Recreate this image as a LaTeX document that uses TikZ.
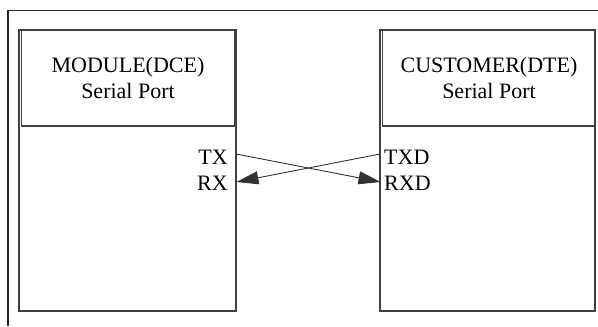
\documentclass[tikz,border=0pt]{standalone}
\usepackage{fontspec}
\setmainfont{Liberation Serif}
\usetikzlibrary{arrows.meta}
\begin{document}
\begin{tikzpicture}[x=1pt,y=-1pt,
  frameline/.style={line width=1.3pt,draw=black!85},
  boxline/.style={line width=1.4pt,draw=black!75},
  hdr/.style={align=center,font=\fontsize{22}{26}\selectfont,inner sep=0pt},
  pin/.style={font=\fontsize{22}{26}\selectfont,inner sep=0pt},
  wire/.style={line width=0.9pt,draw=black!80,-{Triangle[length=22pt,width=13pt]}}]
\useasboundingbox (0,0) rectangle (598,327);
\draw[frameline] (8,326) -- (8,10.5) -- (598,10.5);
% left box
\draw[boxline] (19,30) rectangle (236,311);
\draw[boxline] (21.5,30) rectangle (235,126);
\node[hdr] (mod) at (128,78) {MODULE(DCE)\\Serial Port};
% right box
\draw[boxline] (380,30) rectangle (595,311);
\draw[boxline] (382.5,30) rectangle (595,126);
\node[hdr] (cus) at (489,78) {CUSTOMER(DTE)\\Serial Port};
% pins
\node[pin,anchor=base east] (tx) at (228,164) {TX};
\node[pin,anchor=base east] (rx) at (228,190) {RX};
\node[pin,anchor=base west] (txd) at (384,164) {TXD};
\node[pin,anchor=base west] (rxd) at (384,190) {RXD};
\coordinate (txp) at (236,154);
\coordinate (rxp) at (236.5,182);
\coordinate (txdp) at (380,154);
\coordinate (rxdp) at (380.5,182);
\draw[wire] (txp) -- (rxdp);
\draw[wire] (txdp) -- (rxp);
\end{tikzpicture}
\end{document}
